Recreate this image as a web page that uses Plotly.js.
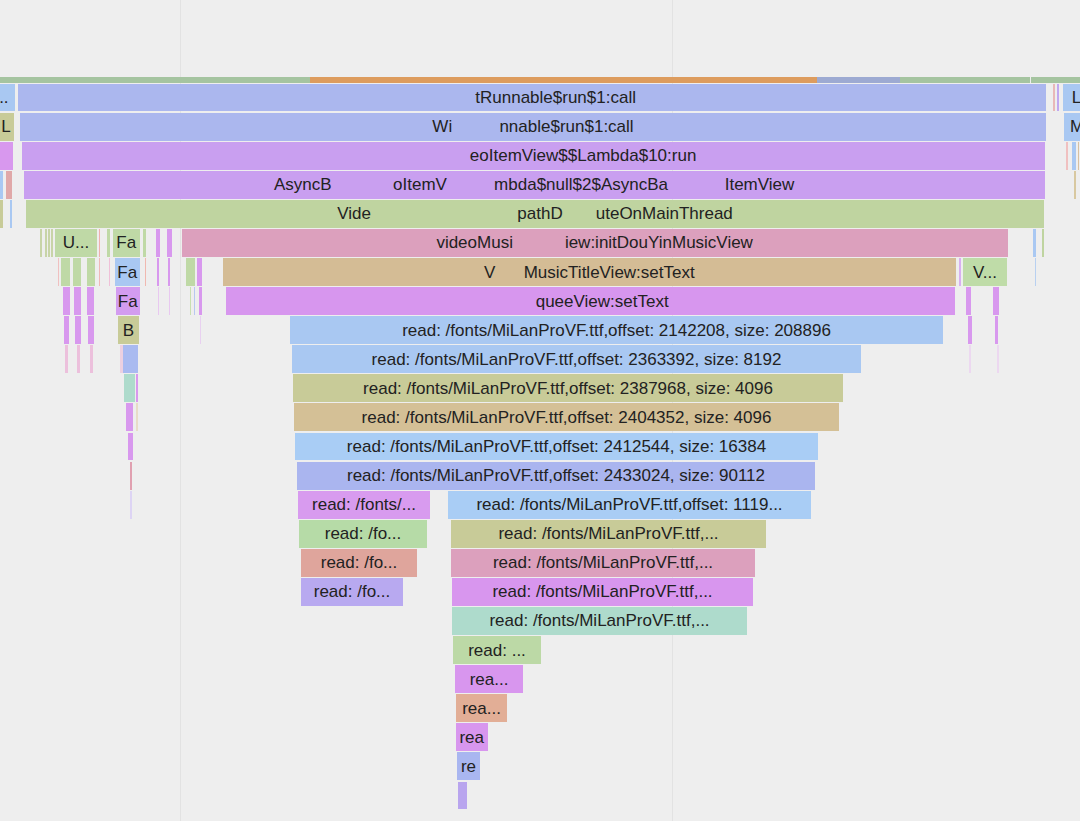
<!DOCTYPE html>
<html>
<head>
<meta charset="utf-8">
<script src="https://cdn.plot.ly/plotly-3.0.1.min.js"></script>
<style>
html,body{margin:0;padding:0;background:#eeeeee;}
#chart{width:1080px;height:821px;}
</style>
</head>
<body>
<div id="chart"></div>
<script>
// gap helper: non-breaking spaces standing in for the blurred parts of the labels
function gap(n){ return '\u00a0'.repeat(n); }

// ---- flame graph frames: row (depth), start, end (in sample units), label ----
const frameRow = [
  0,0,0,0,0,
  1,1,1,1,1,
  2,2,2,
  3,3,3,3,3,
  4,4,4,4,
  5,5,5,
  6,6,6,6,6,6,6,6,6,6,6,6,6,6,
  7,7,7,7,7,7,7,7,7,7,7,7,7,7,7,7,
  8,8,8,8,8,8,8,8,8,8,8,8,
  9,9,9,9,9,9,9,9,
  10,10,10,10,10,10,10,10,
  11,11,11,
  12,12,12,
  13,13,
  14,14,
  15,15,15,
  16,16,
  17,17,
  18,18,
  19,
  20,
  21,
  22,
  23,
  24,
  25
];
const frameStart = [
  0,310,817,900,1031,
  -12,18,1053,1057,1063,
  -2,20,1064,
  -2,22,1066,1072,1078,
  -2,6,24,1074,
  -2,10,26,
  40,45,48,51,55,99,107,113,143,156,167,182,1033,1042,
  58,61,73,87,99,109,115,145,157,168,186,197,223,959,963,1035,
  63,74,87,116,158,169,190,194,199,226,966,993,
  64,75,88,118,200,290,968,995,
  65,77,90,120,123,292,969,997,
  124,136,293,
  126,136,294,
  128,295,
  130,297,
  130,298,448,
  299,451,
  301,451,
  301,452,
  452,
  453,
  455,
  456,
  456,
  457,
  458
];
const frameEnd = [
  310,817,900,1030,1090,
  15,1046,1055,1059,1090,
  14,1046,1090,
  13,1045,1068,1076,1079,
  3,12,1045,1076,
  3,12,1044,
  42,47,50,53,97,100,110,140,146,160,172,1008,1036,1044,
  59,70,81,95,100,110,140,146,159,170,195,202,956,961,1007,1036,
  70,81,94,140,159,170,191,195,202,955,971,999,
  69,81,94,139,201,943,972,998,
  68,80,93,123,138,861,971,999,
  135,138,843,
  133,138,839,
  133,818,
  132,815,
  132,430,811,
  427,766,
  417,755,
  403,753,
  747,
  541,
  523,
  507,
  488,
  480,
  467
];
const frameLabel = [
  '','','','','',
  '...', gap(10)+'tRunnable$run$1:call', '', '', 'L',
  'L', 'Wi'+gap(10)+'nnable$run$1:call', 'M',
  '', gap(21)+'eoItemView$$Lambda$10:run', '', '', '',
  '', '', 'AsyncB'+gap(13)+'oItemV'+gap(10)+'mbda$null$2$AsyncBa'+gap(12)+'ItemView', '',
  '', '', 'Vide'+gap(31)+'pathD'+gap(7)+'uteOnMainThread',
  '','','','','U...','','','Fa','','','','videoMusi'+gap(11)+'iew:initDouYinMusicView','','',
  '','','','','','','Fa','','','','','','V'+gap(6)+'MusicTitleView:setText','','V...','',
  '','','','Fa','','','','','',gap(5)+'queeView:setText','','',
  '','','','B','','read: /fonts/MiLanProVF.ttf,offset: 2142208, size: 208896','','',
  '','','','','','read: /fonts/MiLanProVF.ttf,offset: 2363392, size: 8192','','',
  '','','read: /fonts/MiLanProVF.ttf,offset: 2387968, size: 4096',
  '','','read: /fonts/MiLanProVF.ttf,offset: 2404352, size: 4096',
  '','read: /fonts/MiLanProVF.ttf,offset: 2412544, size: 16384',
  '','read: /fonts/MiLanProVF.ttf,offset: 2433024, size: 90112',
  '','read: /fonts/...','read: /fonts/MiLanProVF.ttf,offset: 1119...',
  'read: /fo...','read: /fonts/MiLanProVF.ttf,...',
  'read: /fo...','read: /fonts/MiLanProVF.ttf,...',
  'read: /fo...','read: /fonts/MiLanProVF.ttf,...',
  'read: /fonts/MiLanProVF.ttf,...',
  'read: ...',
  'rea...',
  'rea...',
  'rea',
  're',
  ''
];
// ---- colours (style), one per frame ----
const frameColor = [
  '#a5c4a0','#dd9c5e','#9daad2','#a5c4a0','#a5c4a0',
  '#a9c8f2','#abb7ee','#e8b8b8','#c0a8f0','#a9c8f2',
  '#c8cb98','#abb7ee','#a9c8f2',
  '#d898ee','#c99ff0','#f0c0c0','#a9c8f2','#d8c0a0',
  '#a9c8f2','#e0a8a8','#c99ff0','#d8c8a0',
  '#c8cb98','#a9c8f2','#bfd4a0',
  '#c8d4a8','#c8d4a8','#c8d4a8','#c8d4a8','#bfd9a6','#f0b0b0','#bfd9a6','#bfd9a6','#bfd9a6','#d898ee','#d898ee','#dca0bd','#a9c8f2','#bfd4a0',
  '#f0c0c0','#bfd9a6','#bfd9a6','#bfd9a6','#f0b8b8','#f0c0d8','#a9c8f2','#f0b8b0','#d898ee','#d898ee','#bfd9a6','#d898ee','#d4bc95','#d8b0f0','#bfdca8','#b8d0f0',
  '#d898ee','#d898ee','#d898ee','#d39cf0','#e8c8f0','#e8c8f0','#c8e0b0','#b8c8f0','#d898ee','#d796ee','#d898ee','#d898ee',
  '#d898ee','#d898ee','#d898ee','#c8cb98','#e8d0f0','#a9c8f2','#d898ee','#d898ee',
  '#ecc0dc','#ecc0dc','#ecc0dc','#ecd0e0','#a9baf0','#a9c8f2','#ecd8f0','#ecd8f0',
  '#aedbcc','#d898ee','#c8cb98',
  '#d898ee','#e8dcc8','#d4c096',
  '#d898ee','#a9cdf5',
  '#e0a0b0','#aab5ef',
  '#ddd4f4','#d89bef','#a9cdf5',
  '#b6dba7','#c8cb98',
  '#dfa59c','#dca0bd',
  '#b8a9f0','#d896ee',
  '#aedbcc',
  '#bcd9a6',
  '#d896ee',
  '#e2ae96',
  '#d896ee',
  '#a9b6f0',
  '#b9a5ee'
];

const widths = frameStart.map((s, i) => frameEnd[i] - s);
const barThick = frameRow.map(r => r === 0 ? 0.206 : 0.96);
const barOffset = frameRow.map(r => r === 0 ? 0.294 : -0.48);

const trace = {
  type: 'bar',
  orientation: 'h',
  y: frameRow,
  x: widths,
  base: frameStart,
  width: barThick,
  offset: barOffset,
  text: frameLabel,
  textposition: 'inside',
  insidetextanchor: 'middle',
  textangle: 0,
  constraintext: 'none',
  textfont: {family: 'Liberation Sans, Arial, sans-serif', size: 17, color: '#222222'},
  marker: {color: frameColor, line: {width: 0}},
  hoverinfo: 'none',
  cliponaxis: true
};

const layout = {
  width: 1080,
  height: 821,
  margin: {l: 0, r: 0, t: 0, b: 0},
  paper_bgcolor: '#eeeeee',
  plot_bgcolor: '#eeeeee',
  showlegend: false,
  bargap: 0,
  xaxis: {
    range: [0, 1080],
    tickvals: [180, 672],
    showgrid: true,
    gridcolor: '#e2e2e2',
    gridwidth: 1,
    showticklabels: false,
    ticks: '',
    zeroline: false,
    showline: false,
    fixedrange: true
  },
  yaxis: {
    range: [25.878, -2.354],
    showgrid: false,
    showticklabels: false,
    ticks: '',
    zeroline: false,
    showline: false,
    fixedrange: true
  },
  hovermode: false
};

Plotly.newPlot('chart', [trace], layout, {displayModeBar: false, staticPlot: true});
</script>
</body>
</html>
